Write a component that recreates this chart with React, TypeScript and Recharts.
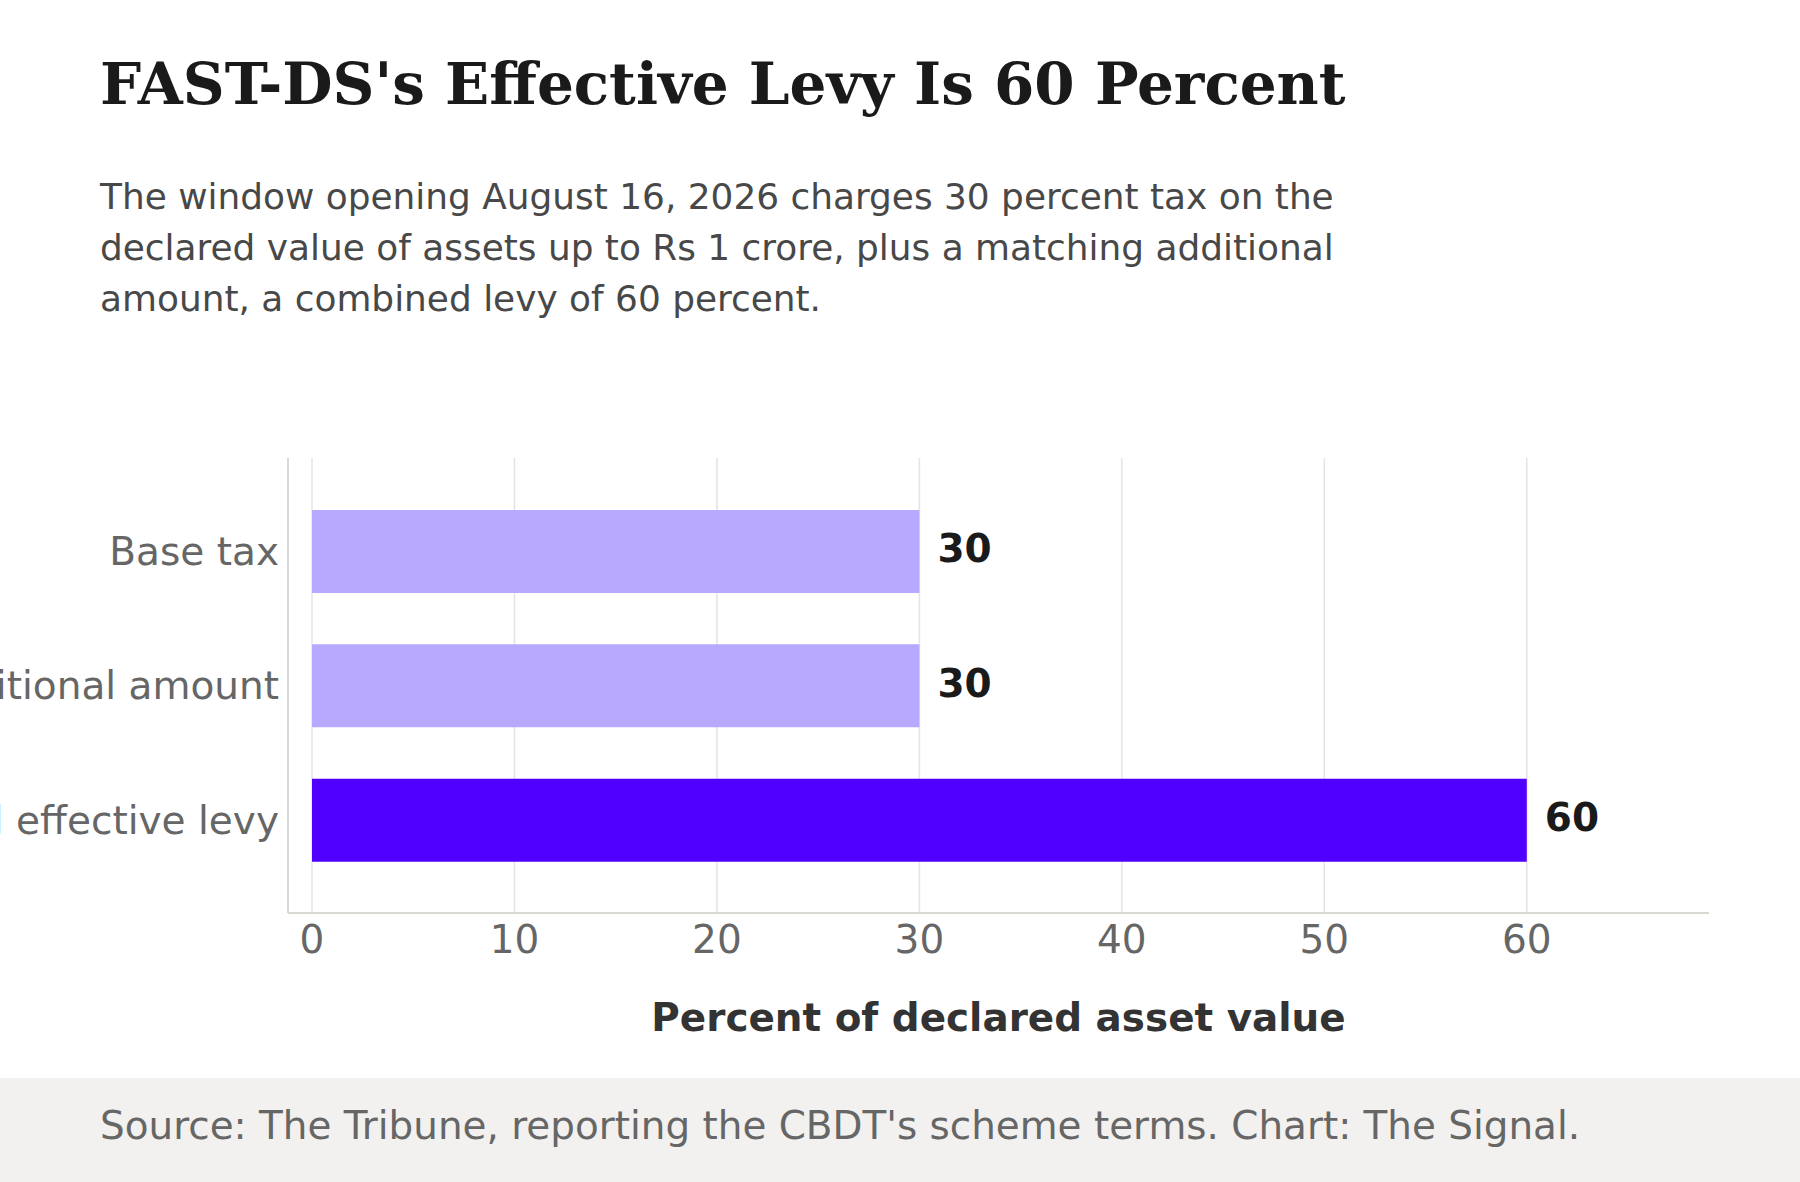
import React from 'react';
import { BarChart, Bar, XAxis, YAxis, CartesianGrid, Cell, LabelList } from 'recharts';

const categories = ['Base tax', 'Additional amount', 'Total effective levy'];
const levyValues = [30, 30, 60];
const xTicks = [0, 10, 20, 30, 40, 50, 60];

const barColors = ['#b8a9ff', '#b8a9ff', '#5000ff'];

const data = categories.map((name, i) => ({ name, value: levyValues[i] }));

const sans = '"DejaVu Sans", Verdana, sans-serif';

export default function App() {
  return (
    <div style={{ position: 'absolute', left: 0, top: 0, width: 1800, height: 1182, background: '#fff', overflow: 'hidden', fontFamily: sans }}>
      <div style={{ position: 'absolute', left: 100, top: 55, fontFamily: '"DejaVu Serif", serif', fontWeight: 'bold', fontSize: 58, lineHeight: 1, color: '#1a1a1a', whiteSpace: 'nowrap' }}>
        FAST-DS's Effective Levy Is 60 Percent
      </div>
      <div style={{ position: 'absolute', left: 100, top: 171, fontSize: 35.9, lineHeight: '51px', color: '#484848', whiteSpace: 'nowrap' }}>
        <div>The window opening August 16, 2026 charges 30 percent tax on the</div>
        <div>declared value of assets up to Rs 1 crore, plus a matching additional</div>
        <div>amount, a combined levy of 60 percent.</div>
      </div>

      <div style={{ position: 'absolute', left: 0, top: 0 }}>
        <BarChart
          width={1800}
          height={1078}
          data={data}
          layout="vertical"
          margin={{ top: 458, right: 91, bottom: 0, left: 0 }}
        >
          <CartesianGrid horizontal={false} syncWithTicks stroke="#e4e4e4" strokeWidth={1.5} />
          <XAxis
            type="number"
            domain={[0, 69]}
            ticks={xTicks}
            padding={{ left: 24, right: 0 }}
            height={165}
            tickLine={false}
            tickSize={0}
            tickMargin={12}
            axisLine={{ stroke: '#d9d8d3', strokeWidth: 2 }}
            tick={{ fill: '#666', fontSize: 39, fontFamily: sans }}
            label={{
              value: 'Percent of declared asset value',
              position: 'insideBottom',
              offset: 47,
              fill: '#333',
              fontSize: 38.9,
              fontWeight: 'bold',
              fontFamily: sans,
            }}
          />
          <YAxis
            type="category"
            dataKey="name"
            width={288}
            padding={{ top: 26, bottom: 26 }}
            tickLine={false}
            tickSize={0}
            tickMargin={9}
            axisLine={{ stroke: '#d9d8d3', strokeWidth: 2 }}
            tick={{ fill: '#666', fontSize: 39, fontFamily: sans }}
          />
          <Bar dataKey="value" barSize={83} isAnimationActive={false}>
            {data.map((d, i) => (
              <Cell key={d.name} fill={barColors[i]} />
            ))}
            <LabelList
              dataKey="value"
              position="right"
              offset={18}
              dy={-3}
              fill="#1a1a1a"
              fontSize={39}
              fontWeight="bold"
              fontFamily={sans}
            />
          </Bar>
        </BarChart>
      </div>

      <div style={{ position: 'absolute', left: 0, top: 1078, width: 1800, height: 104, background: '#f2f1ef' }} />
      <div style={{ position: 'absolute', left: 100, top: 1107, fontSize: 38.9, lineHeight: 1, color: '#666', whiteSpace: 'nowrap' }}>
        Source: The Tribune, reporting the CBDT's scheme terms. Chart: The Signal.
      </div>
    </div>
  );
}
